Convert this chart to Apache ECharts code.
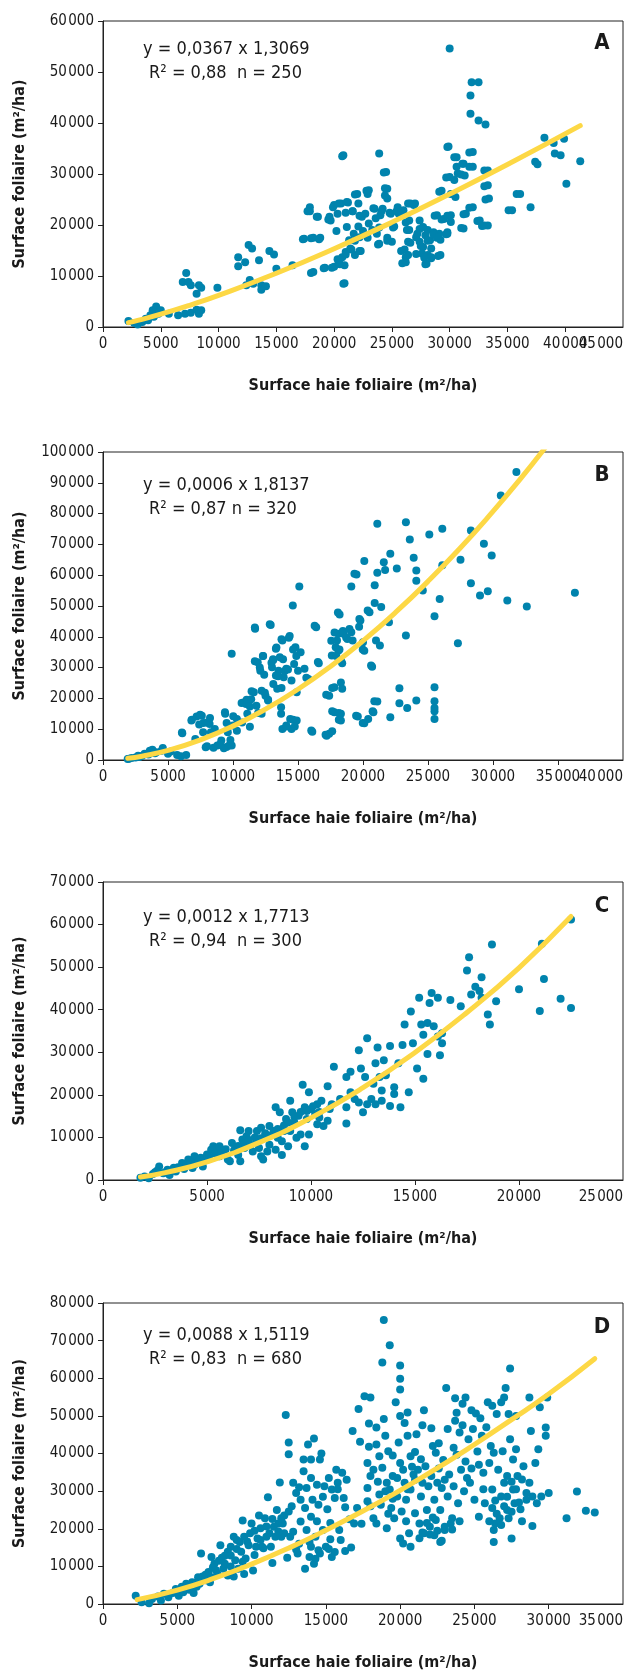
<!DOCTYPE html>
<html>
<head>
<meta charset="utf-8">
<script src="https://cdn.jsdelivr.net/npm/echarts@6/dist/echarts.min.js"></script>
<style>
  html, body { margin: 0; padding: 0; background: #fff; }
  #chart { width: 630px; height: 1675px; }
</style>
</head>
<body>
<div id="chart"></div>
<script>
// nuages de points (x = surface haie foliaire, y = surface foliaire)
var ptsA = [
  [2200,1200],[2700,800],[3000,500],[3400,1000],[3700,1600],[4100,2300],[4300,3300],[4600,4000],[4400,2000],[4800,2600],
  [3900,1300],[5000,3300],[5700,2600],[6500,2300],[6900,8800],[7200,10600],[7400,8800],[7600,8200],[7100,2600],[7600,2800],
  [8100,3400],[8100,6500],[8300,8200],[8500,7700],[8300,2600],[8500,3300],[9900,7700],[11700,11900],[11700,13700],[12300,12700],
  [12600,16100],[12900,15400],[12400,8200],[12700,9200],[13000,8500],[13500,13100],[13700,8200],[13700,7300],[14100,8000],[14400,14900],
  [14800,14200],[15000,11400],[16400,12100],[17400,17300],[17900,23500],[17900,22700],[18200,17500],[18200,10800],[18800,17500],[18600,21600],
  [19200,11600],[19600,21600],[19700,20900],[20000,11800],[20000,23900],[20200,18800],[20300,22200],[20600,24200],[20400,12700],[20700,13700],
  [20800,33700],[20900,8600],[20900,12100],[21000,14700],[21100,19600],[21100,24500],[21300,17000],[21400,15400],[21600,22700],[21700,18300],
  [21800,14100],[22000,26100],[22100,19700],[22100,24200],[22200,17600],[22400,21600],[22700,22200],[22900,26100],[23000,26800],[22300,14900],
  [23000,20300],[23300,19000],[23500,23200],[23700,18300],[23900,34000],[23900,16300],[24000,21900],[24200,23200],[24400,25800],[24500,30400],
  [24600,25200],[24600,17500],[24600,27100],[24900,22200],[25000,16700],[25200,19700],[25500,23500],[25600,22200],[26000,22900],[26100,15200],
  [26200,12700],[26400,14100],[26400,16700],[26500,20900],[26500,19000],[26600,24200],[27000,24200],[27200,18300],[27400,20900],[27400,16700],
  [27600,14400],[27700,19600],[27700,15700],[27900,18000],[28000,12400],[28100,14100],[28100,19000],[28300,17000],[28400,15400],[28400,13700],
  [28600,18600],[28900,21900],[29100,18300],[29200,17100],[29200,14100],[29300,26700],[29500,21200],[29800,18600],[29800,18300],[29900,35400],
  [30000,54600],[30000,29400],[30100,20600],[30100,21900],[30100,26100],[30400,28800],[30500,25500],[30600,33300],[30600,31400],[30700,30100],
  [31200,32000],[31300,29700],[31200,19300],[31400,22200],[31800,45400],[31800,41800],[31900,48000],[32000,34300],[32000,31400],[32000,23500],
  [32500,48000],[32500,40500],[32600,20900],[33000,19900],[33100,39700],[33300,30700],[33300,27800],[33400,25200],[33300,19900],[35400,22900],
  [36100,26100],[37000,23500],[37400,32400],[37600,31900],[38200,37100],[39000,36100],[39100,34000],[39600,33700],[39900,36900],[40100,28100],
  [41300,32500],
  [17300,17200],[18000,17400],[18700,17200],[17700,22700],[18500,21600],[19500,21100],[19900,23500],[20400,24200],[20700,33500],[21000,22400],
  [21200,24400],[21600,22700],[21800,26000],[22200,21800],[22800,26700],[23400,23300],[24300,30300],[24400,27200],[24100,22700],[23600,21300],
  [23900,19500],[24800,22400],[25100,19500],[25400,22700],[25800,22600],[26400,24200],[26900,23900],[26200,20500],[26300,19000],[25800,14900],
  [26200,13700],[25900,12500],[26600,16500],[27100,17600],[27400,19200],[27100,14300],[27500,15900],[27800,13600],[27900,12300],[28100,16900],
  [28400,13500],[28600,18200],[29000,13900],[28900,17500],[29700,18200],[28700,21800],[29300,21100],[29800,21800],[29100,26500],[29800,35300],
  [30400,33300],[31100,32000],[31000,29900],[31700,34200],[31700,31400],[33000,30700],[33000,27600],[33100,25000],[29700,29300],[31000,19400],
  [31200,22100],[31700,23400],[32400,20800],[32800,19800],[35100,22900],[35800,26100],[18000,10600],[19100,11500],[19800,11600],[20500,12300],
  [20800,8500],[20300,13300],[21000,14200],[21500,15200],[22200,14900],[21800,16900],[22500,18800],[22900,17500],[23800,16200],[24600,16900]
];
var ptsB = [
  [1900,300],[2200,650],[2700,1400],[3200,2000],[3600,3000],[4100,2500],[4600,3900],[5000,2000],[5700,1600],[6100,8700],
  [6400,1600],[6800,12800],[7100,6800],[7200,14100],[7400,11500],[7600,14400],[7700,9000],[7900,4100],[8000,12200],[8200,11700],
  [8300,9000],[8600,10100],[8800,4700],[9100,6300],[9400,15000],[9600,9000],[9700,4700],[9800,6500],[9900,34500],[9900,4700],
  [10000,11200],[10300,9500],[10300,13300],[10700,12200],[10800,18700],[11000,18200],[11100,15000],[11300,10800],[11400,19700],[11600,22000],
  [11700,42600],[11800,17600],[11900,31700],[12100,29000],[12200,15000],[12200,22500],[12300,33800],[12400,27700],[12500,20900],[12700,19300],
  [12900,43800],[13000,30100],[13100,32500],[13100,24700],[13300,36100],[13300,27400],[13400,23100],[13500,29000],[13600,33400],[13700,15000],
  [13700,17100],[13800,38800],[13800,10100],[13900,26900],[14100,29600],[14100,11200],[14300,39700],[14400,13300],[14500,10100],[14500,25800],
  [14600,50200],[14700,31200],[14800,36600],[14900,12800],[14900,22000],[15000,29000],[15100,56300],[15200,35000],[15500,29600],[15800,26300],
  [16100,9200],[16400,43100],[16600,31400],[17200,7900],[17400,20900],[17400,8500],[17600,33900],[17800,15500],[17800,23600],[17900,36600],
  [18000,38800],[18100,41000],[18100,35500],[18200,47200],[18300,25200],[18300,15000],[18300,12800],[18400,31400],[18400,23100],[18500,41000],
  [18800,39300],[19100,41500],[19100,56300],[19200,38800],[19500,60200],[19600,14100],[19700,43300],[19800,45300],[20000,38200],[20100,64600],
  [20100,35500],[20100,11900],[20400,13300],[20500,48000],[20700,30300],[20800,15500],[20900,51000],[20900,56700],[21000,38800],[21100,76700],
  [21100,60800],[21100,19000],[21300,37200],[21400,49700],[21600,64200],[21700,61700],[22000,44700],[22100,67000],[22100,13900],[22600,62200],
  [22800,23300],[22800,18400],[23300,77200],[23300,40400],[23400,16900],[23600,71600],[23900,65700],[24100,61500],[24100,58200],[24100,19300],
  [24600,55000],[25100,73200],[25500,23600],[25500,19100],[25500,16900],[25500,15800],[25500,13300],[25500,46700],[25900,52300],[26100,75100],
  [26100,63200],[27300,37900],[27500,65000],[28300,74500],[28300,57400],[29000,53400],[29300,70200],[29600,54800],[29900,66400],[30600,85900],
  [31100,51800],[31800,93500],[32600,49800],[36300,54300],
  [6830,13100],[7470,14700],[7720,12000],[8230,13600],[6070,8900],[9380,15500],[9510,12000],[10020,14200],[10660,18500],[11050,19600],
  [11430,22300],[11300,17400],[11680,43000],[11680,32100],[12060,30000],[12320,33800],[12450,21800],[12700,19600],[11930,15300],[12830,44100],
  [12960,31600],[13080,32700],[13340,36500],[13470,27200],[13730,39200],[13850,32700],[13980,28900],[14230,29400],[14360,40300],[14620,35900],
  [14870,33800],[13730,23400],[14110,10900],[14620,13100],[14750,10900],[16020,9600],[16280,43600],[16530,31800],[15640,26700],[17170,21200],
  [17120,8200],[17630,23400],[17630,15800],[17560,38700],[17810,41400],[17940,33800],[18070,47900],[18190,35900],[18320,32100],[18450,41900],
  [18700,39800],[18960,42500],[19340,60500],[19720,45800],[19980,35900],[20360,48500],[20620,30700],[20870,19100],[20740,15800],[19980,12000],
  [19470,14400],[18140,13100],[18140,15300],[17630,9300],
  [2500,800],[3000,1300],[3500,1800],[4000,2200],[4500,3000],[5200,2800],[6000,1200],[2000,400],[2800,1000],[3800,3300],
  [8000,4500],[8500,4000],[9000,5000],[9500,4200],[9300,3800]
];
var ptsC = [
  [1800,550],[2000,800],[2200,400],[2500,1800],[2700,3200],[2900,1600],[3100,2400],[3200,1200],[3400,2900],[3500,2000],
  [3800,4000],[3900,2600],[4100,4800],[4300,2800],[4400,5600],[4500,4000],[4700,5200],[4800,3200],[5000,6000],[5200,7100],
  [5300,7900],[5500,6700],[5600,7900],[5600,5600],[5800,7100],[6000,4800],[6100,4400],[6200,8700],[6400,7500],[6500,5900],
  [6600,4400],[6600,11700],[6700,9500],[6800,7500],[6900,10300],[7000,11500],[7100,8300],[7200,6700],[7400,11500],[7400,9100],
  [7500,7500],[7600,12300],[7600,5600],[7700,4800],[7800,10300],[7900,6700],[8000,12700],[8000,8300],[8200,11500],[8300,17100],
  [8300,7100],[8400,9900],[8500,15900],[8600,5900],[8600,9100],[8700,11500],[8800,14300],[8900,7900],[9000,18600],[9000,11500],
  [9100,15900],[9200,13500],[9300,9900],[9400,15100],[9500,10700],[9600,22400],[9700,17100],[9700,7900],[9800,14300],[9900,20600],
  [9900,10700],[10000,16700],[10200,15500],[10300,13100],[10300,17800],[10400,14700],[10500,18600],[10600,12700],[10800,13900],[10800,22000],
  [10900,16700],[11000,17800],[11100,26600],[11400,19000],[11700,17100],[11700,13300],[11700,24200],[11900,20600],[11900,25400],[12100,19000],
  [12300,18200],[12300,30500],[12400,26200],[12500,15900],[12600,24200],[12700,17800],[12700,33300],[12900,19000],[13000,22600],[13100,27400],
  [13100,17800],[13200,31100],[13300,24200],[13400,18600],[13400,21000],[13500,28100],[13600,24600],[13800,31500],[13800,17400],[14000,20200],
  [14000,21800],[14200,27400],[14300,17100],[14400,31700],[14500,36500],[14700,20600],[14800,39600],[14900,32100],[15100,26200],[15200,42800],
  [15300,36500],[15400,34100],[15400,23800],[15600,36900],[15600,29600],[15700,41600],[15800,43900],[15900,36100],[16100,33700],[16100,42800],
  [16200,29300],[16300,34500],[16300,32100],[16700,42300],[17200,40800],[17500,49200],[17600,52300],[17700,43600],[17900,45400],[18100,44400],
  [18200,47600],[18200,42800],[18500,38900],[18600,36500],[18700,55300],[18900,42000],[20000,44800],[21000,39700],[21100,55500],[21200,47200],
  [22000,42600],[22500,61200],[22500,40400],
  [3300,2200],[3600,3000],[4000,3500],[4200,4200],[4600,4500],[4900,5000],[5100,5500],[5400,6200],[5700,6500],[5900,7200],
  [6300,7000],[6500,8000],[6800,8600],[7000,9400],[7300,10000],[7600,9800],[7800,11000],[8100,10500],[8400,12000],[8700,12800],
  [8900,13500],[9200,14800],[9500,16000],[9800,16200],[10100,17300],[10400,16000],[2400,1400],[2600,2200],[3000,1800],[4400,3600]
];
var ptsD = [
  [2200,2200],[2600,450],[3100,200],[3300,1300],[3700,2000],[3900,900],[4100,2700],[4400,1800],[4700,2900],[4900,4000],
  [5100,2200],[5300,4600],[5400,3100],[5600,5400],[5800,3800],[6000,5800],[6100,2900],[6300,4600],[6400,7100],[6500,5400],
  [6600,13400],[6700,7300],[6900,6300],[7100,8500],[7200,5800],[7300,12500],[7400,9800],[7500,10700],[7700,8000],[7900,15600],
  [8000,12300],[8100,9400],[8200,10700],[8400,13900],[8400,7600],[8600,12900],[8600,15200],[8800,7300],[8800,17900],[8900,11600],
  [9000,17000],[9100,9400],[9300,13900],[9400,22200],[9500,8000],[9500,17900],[9600,12100],[9800,15600],[9900,18800],[10000,21400],
  [10100,8900],[10300,15200],[10400,17400],[10500,23500],[10600,20100],[10700,15200],[10900,22800],[11000,17900],[11100,28400],[11200,18800],
  [11300,15200],[11400,10900],[11600,17900],[11700,25000],[11800,21400],[11900,32300],[12000,17900],[12100,21400],[12200,18800],[12300,50200],
  [12400,12300],[12500,24600],[12500,42900],[12500,39800],[12600,17900],[12800,32200],[13000,29500],[13100,13400],[13300,27700],[13300,21900],
  [13500,38400],[13500,35300],[13600,9400],[13700,30800],[13700,19700],[13800,42400],[13900,12500],[14000,23200],[14000,38400],[14100,27700],
  [14200,44000],[14200,10700],[14300,17900],[14400,31700],[14500,26400],[14500,14300],[14600,38400],[14700,40000],[14800,19700],[14900,31300],
  [15000,15200],[15100,25200],[15200,33500],[15300,17200],[15400,30400],[15400,12500],[15600,28200],[15700,35700],[15800,32200],[15900,19700],
  [16100,34900],[16200,28200],[16300,25700],[16300,14100],[16700,15000],[16800,46000],[16900,21400],[17100,25500],[17200,51800],[17300,43100],
  [17400,21300],[17600,55200],[17800,27300],[17800,37500],[17800,30800],[17900,41800],[17900,48000],[18000,54900],[18000,34000],[18200,22800],
  [18200,35700],[18400,46900],[18400,42400],[18400,21400],[18600,29100],[18600,39300],[18700,26400],[18800,36200],[18800,64200],[18900,75500],
  [18900,49200],[19000,44700],[19100,32200],[19100,20100],[19200,40600],[19300,30400],[19300,68800],[19400,25500],[19500,39500],[19500,34000],
  [19600,22800],[19700,53600],[19800,28600],[19900,42900],[20000,63400],[20000,59900],[20000,57000],[20000,50000],[20000,37500],[20000,17400],
  [20100,24600],[20200,35700],[20200,16100],[20300,48100],[20300,32200],[20400,27700],[20500,50900],[20500,44700],[20600,18800],[20700,39300],
  [20700,15200],[20700,30400],[20900,34400],[21000,40400],[21000,24100],[21100,45100],[21200,35700],[21300,21400],[21400,28600],[21500,32200],
  [21500,47500],[21600,18800],[21600,51500],[21700,36600],[21800,25000],[21900,31300],[22000,20500],[22100,46700],[22100,34000],[22200,42000],
  [22300,18300],[22300,27700],[22400,40200],[22400,22300],[22500,32200],[22600,42700],[22700,16500],[22700,25000],[22800,30800],[22900,38300],
  [23000,19700],[23100,57400],[23200,28600],[23200,46500],[23300,34400],[23400,21400],[23500,22800],[23600,31300],[23700,48700],[23700,54700],
  [23800,50800],[23800,39700],[23900,26800],[24000,45600],[24100,35700],[24200,53200],[24400,54900],[24400,37900],[24500,33500],[24600,43800],
  [24700,32200],[24800,51500],[24900,46500],[25000,27700],[25100,50600],[25300,37000],[25300,23200],[25400,49400],[25500,44700],[25600,34900],
  [25700,26800],[25800,47000],[25900,53600],[26100,42000],[26200,30400],[26200,52700],[26200,25500],[26300,19700],[26300,16500],[26300,40200],
  [26400,21400],[26500,50500],[26600,35700],[26700,22800],[26800,28600],[26800,53600],[26900,40600],[27000,32200],[27000,54900],[27100,57400],
  [27200,25000],[27200,34000],[27300,50500],[27300,22800],[27400,62600],[27400,43800],[27500,17400],[27600,30400],[27600,38400],[27700,26800],
  [27800,50000],[27800,41100],[27900,34000],[28100,25200],[28200,33100],[28300,36600],[28500,27700],[28700,54900],[28700,32200],[28800,46000],
  [28900,20700],[28900,28600],[29100,37500],[29200,26800],[29300,41100],[29400,52300],[29500,28600],[29800,46900],[29800,44700],[29900,54900],
  [30000,29500],[31200,22800],[31900,29900],[32500,24800],[33100,24300],
  [21500,19000],[22000,18500],[22500,19500],[21800,21500],[22200,23000],[23000,20500],[21300,17500],[22800,16800],[23500,19800],[24000,22000],
  [26000,22000],[26500,24000],[27000,26000],[27500,24500],[28000,27000],[28500,29500],[26800,21000],[27200,28500],[27800,30500],[28200,22000],
  [26400,27500],[27500,32500],
  [9200,16500],[10200,19500],[10800,14800],[11500,20500],[12000,22800],[12800,19200],[13200,16000],[14000,15200],[14600,13400],[15200,14600],
  [5200,3600],[5500,4200],[5900,4800],[6200,5600],[6600,6200],[6900,7800],[7300,7100],[7600,9000],[7800,11500],[8200,12800],
  [8600,10000],[9000,14600],[9400,11200],[9700,16600],[10200,13000],[10600,17000],[11000,20600],[11400,22600],[11800,19300],[12200,23500],
  [12700,26000],[13200,31000],[13600,25500],[14000,33500],[14400,22000],[14800,28500],[15300,21500],[15800,30500],[16400,33000],[16000,17000],
  [13000,14500],[13900,16500],[14300,12000],[15600,13800],[16600,22500],
  [19000,30000],[19500,28000],[20500,30500],[21000,33000],[20800,36500],[21400,38500],[19800,33500],[18500,32500],[22600,36000],[23000,33000],
  [24300,30000],[24800,36000],[25200,40500],[25600,30500],[26000,37500],[23600,41500],[24200,47500],[19200,24000],[20400,22000],[18000,26000]
];

// courbes d'ajustement
var curveA = [[2200,860],[3000,1290],[5000,2510],[7500,4260],[10000,6200],[15000,10530],[20000,15340],[25000,20520],[30000,26060],[35000,31860],[41300,39490]];
var curveB = [[1900,540],[3000,1240],[5000,3130],[7500,6530],[10000,11000],[12500,16500],[15000,22960],[17500,30370],[20000,38690],[22500,47900],[25000,58000],[27500,68900],[30000,80700],[32000,90700],[34000,101300]];
var curveC = [[1800,700],[3000,1730],[5000,4280],[7500,8770],[10000,14600],[12500,21680],[15000,29940],[17500,39350],[20000,49840],[22500,61900]];
var curveD = [[2300,1150],[5000,3700],[7500,6850],[10000,10600],[12500,14850],[15000,19600],[17500,24700],[20000,30200],[22500,36100],[25000,42400],[27500,49000],[30000,55800],[33100,65200]];

var xMax = [45000, 40000, 25000, 35000];
var yMax = [60000, 100000, 70000, 80000];
var letters = ['A', 'B', 'C', 'D'];
var equations = ['y = 0,0367 x 1,3069', 'y = 0,0006 x 1,8137', 'y = 0,0012 x 1,7713', 'y = 0,0088 x 1,5119'];
var stats = ['R\u00b2 = 0,88  n = 250', 'R\u00b2 = 0,87 n = 320', 'R\u00b2 = 0,94  n = 300', 'R\u00b2 = 0,83  n = 680'];
var xTitle = 'Surface haie foliaire (m\u00b2/ha)';
var yTitle = 'Surface foliaire (m\u00b2/ha)';

var points = [ptsA, ptsB, ptsC, ptsD];
var curves = [curveA, curveB, curveC, curveD];

// position des 4 panneaux
var tops = [21, 452, 882, 1303];
var heights = [306, 308, 298, 301];

var FONT = '"DejaVu Sans Condensed", "Liberation Sans Narrow", sans-serif';
var INK = '#1a1a1a';

function fmt(v) {
  return String(v).replace(/(\d)(?=\d{3}$)/, '$1\u200a');
}

var chart = echarts.init(document.getElementById('chart'));

var grids = [], xAxes = [], yAxes = [], series = [], graphics = [];

for (var i = 0; i < 4; i++) {
  grids.push({
    left: 103, top: tops[i], width: 520, height: heights[i],
    show: true, borderColor: '#222', borderWidth: 1
  });
  // axe principal : toutes les graduations sauf la dernière
  xAxes.push({
    gridIndex: i, type: 'value', min: 0, max: xMax[i], interval: 5000,
    splitLine: { show: false },
    axisLine: { onZero: false, lineStyle: { color: '#222', width: 1 } },
    axisTick: { length: 5, lineStyle: { color: '#222' } },
    axisLabel: { color: INK, fontFamily: FONT, fontSize: 15, margin: 10, formatter: fmt,
                 showMinLabel: true, showMaxLabel: false },
    name: xTitle, nameLocation: 'middle', nameGap: 51,
    nameTextStyle: { color: INK, fontFamily: FONT, fontSize: 16, fontWeight: 'bold' }
  });
  // même échelle, ne porte que l'étiquette max calée à droite (elle touche sa voisine sur la figure)
  (function (mx) {
    xAxes.push({
      gridIndex: i, type: 'value', min: 0, max: mx, interval: 5000, position: 'bottom',
      splitLine: { show: false }, axisLine: { show: false }, axisTick: { show: false },
      axisLabel: { color: INK, fontFamily: FONT, fontSize: 15, margin: 10,
                   showMaxLabel: true, alignMaxLabel: 'right',
                   formatter: function (v) { return v === mx ? fmt(v) : ''; } }
    });
  })(xMax[i]);
  yAxes.push({
    gridIndex: i, type: 'value', min: 0, max: yMax[i], interval: 10000,
    splitLine: { show: false },
    axisLine: { show: true, onZero: false, lineStyle: { color: '#222', width: 1 } },
    axisTick: { show: true, length: 5, lineStyle: { color: '#222' } },
    axisLabel: { color: INK, fontFamily: FONT, fontSize: 15, margin: 9, formatter: fmt,
                 showMinLabel: true, showMaxLabel: true },
    name: yTitle, nameLocation: 'middle', nameGap: 75,
    nameTextStyle: { color: INK, fontFamily: FONT, fontSize: 16, fontWeight: 'bold' }
  });
  series.push({
    type: 'scatter', xAxisIndex: 2 * i, yAxisIndex: i,
    data: points[i], symbolSize: 8,
    itemStyle: { color: '#0083ad', opacity: 1 },
    silent: true, z: 2
  });
  series.push({
    type: 'line', xAxisIndex: 2 * i, yAxisIndex: i,
    data: curves[i], smooth: true, showSymbol: false,
    lineStyle: { color: '#fdd845', width: 5, cap: 'round' },
    silent: true, z: 3
  });
}

// équations et lettres des panneaux
var eqY = [49, 485, 917, 1335];
var letterY = [43, 475, 906, 1327];
for (var j = 0; j < 4; j++) {
  graphics.push({
    type: 'text', x: 143, y: eqY[j],
    style: { text: equations[j], font: '18px ' + FONT, fill: INK, verticalAlign: 'middle' }
  });
  graphics.push({
    type: 'text', x: 149, y: eqY[j] + 24,
    style: { text: stats[j], font: '18px ' + FONT, fill: INK, verticalAlign: 'middle' }
  });
  graphics.push({
    type: 'text', x: 602, y: letterY[j],
    style: { text: letters[j], font: 'bold 22px ' + FONT, fill: INK, align: 'center', verticalAlign: 'middle' }
  });
}

chart.setOption({
  backgroundColor: '#fff',
  animation: false,
  grid: grids,
  xAxis: xAxes,
  yAxis: yAxes,
  series: series,
  graphic: graphics
});
</script>
</body>
</html>
